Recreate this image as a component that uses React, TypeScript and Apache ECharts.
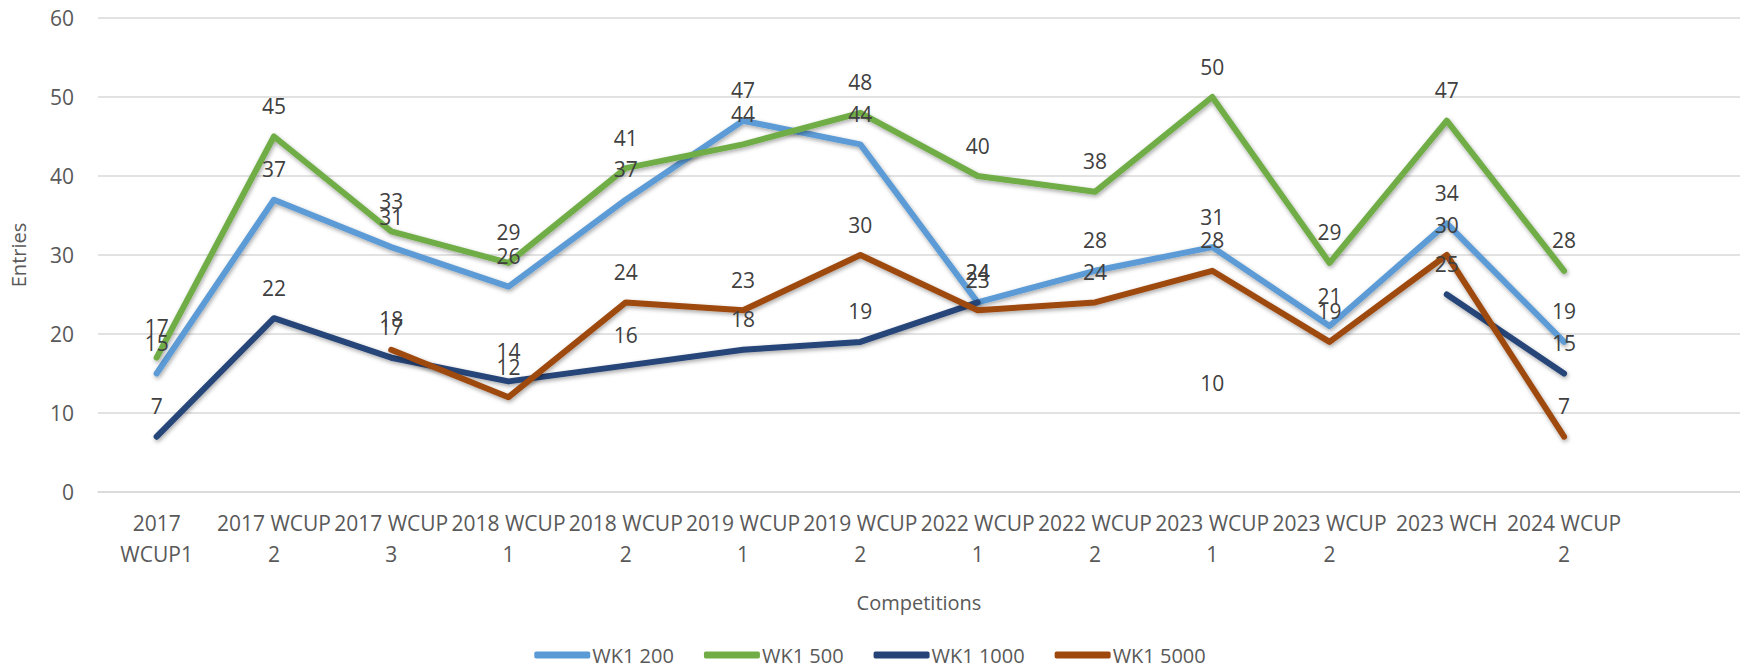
import React, { useEffect, useRef } from "react";
import * as echarts from "echarts";

const categories = [
  "2017\nWCUP1",
  "2017 WCUP\n2",
  "2017 WCUP\n3",
  "2018 WCUP\n1",
  "2018 WCUP\n2",
  "2019 WCUP\n1",
  "2019 WCUP\n2",
  "2022 WCUP\n1",
  "2022 WCUP\n2",
  "2023 WCUP\n1",
  "2023 WCUP\n2",
  "2023 WCH",
  "2024 WCUP\n2",
  "",
];

const seriesNames = ["WK1 200", "WK1 500", "WK1 1000", "WK1 5000"];
const seriesColors = ["#5B9BD5", "#70AD47", "#264478", "#9E480E"];

const wk200 = [15, 37, 31, 26, 37, 47, 44, 24, 28, 31, 21, 34, 19, null];
const wk500 = [17, 45, 33, 29, 41, 44, 48, 40, 38, 50, 29, 47, 28, null];
const wk1000 = [7, 22, 17, 14, 16, 18, 19, 24, null, 10, null, 25, 15, null];
const wk5000 = [null, null, 18, 12, 24, 23, 30, 23, 24, 28, 19, 30, 7, null];

const yTicks = { min: 0, max: 60, interval: 10 };

const FONT = "Open Sans";

function makeSeries(name: string, data: (number | null)[], color: string) {
  return {
    name,
    type: "line",
    data,
    connectNulls: false,
    symbol: "circle",
    symbolSize: 2,
    showSymbol: true,
    itemStyle: { color: "transparent", borderWidth: 0 },
    lineStyle: {
      color,
      width: 6,
      cap: "round",
      join: "round",
      shadowColor: "rgba(0,0,0,0.35)",
      shadowBlur: 4,
      shadowOffsetX: 1,
      shadowOffsetY: 2,
    },
    label: {
      show: true,
      position: "top",
      distance: 19,
      color: "#404040",
      fontSize: 21,
      fontFamily: FONT,
    },
    emphasis: { disabled: true },
  };
}

export default function App() {
  const ref = useRef<HTMLDivElement>(null);
  useEffect(() => {
    if (!ref.current) return;
    const chart = echarts.init(ref.current, undefined, { renderer: "svg" });
    const allData = [wk200, wk500, wk1000, wk5000];
    chart.setOption({
      animation: false,
      backgroundColor: "#ffffff",
      textStyle: { fontFamily: FONT },
      grid: { left: 88, right: 0, top: 18, bottom: 177, containLabel: false },
      legend: {
        left: "center",
        top: 645,
        padding: 0,
        icon: "roundRect",
        itemWidth: 56,
        itemHeight: 7,
        itemGap: 30,
        textStyle: { color: "#595959", fontSize: 20, lineHeight: 18, fontFamily: FONT, padding: [0, 0, 0, -3] },
        data: seriesNames.map((n, i) => ({ name: n, itemStyle: { color: seriesColors[i], opacity: 1 } })),
      },
      xAxis: {
        type: "category",
        data: categories,
        boundaryGap: true,
        name: "Competitions",
        nameLocation: "middle",
        nameGap: 100,
        nameTextStyle: { color: "#595959", fontSize: 20, fontFamily: FONT },
        axisLine: { show: true, lineStyle: { color: "#d9d9d9", width: 1.5 } },
        axisTick: { show: false },
        axisLabel: {
          interval: 0,
          color: "#595959",
          fontSize: 21,
          fontFamily: FONT,
          lineHeight: 31,
          margin: 15,
        },
      },
      yAxis: {
        type: "value",
        min: yTicks.min,
        max: yTicks.max,
        interval: yTicks.interval,
        name: "Entries",
        nameLocation: "middle",
        nameGap: 70,
        nameTextStyle: { color: "#595959", fontSize: 20, fontFamily: FONT },
        axisLine: { show: false },
        axisTick: { show: false },
        axisLabel: { color: "#595959", fontSize: 21, fontFamily: FONT, margin: 24 },
        splitLine: { lineStyle: { color: "#d9d9d9", width: 1.5 } },
      },
      series: seriesNames.map((n, i) => makeSeries(n, allData[i], seriesColors[i])),
    });
    return () => chart.dispose();
  }, []);
  return (
    <div
      ref={ref}
      style={{ position: "fixed", left: 0, top: 0, width: 1740, height: 669 }}
    />
  );
}
